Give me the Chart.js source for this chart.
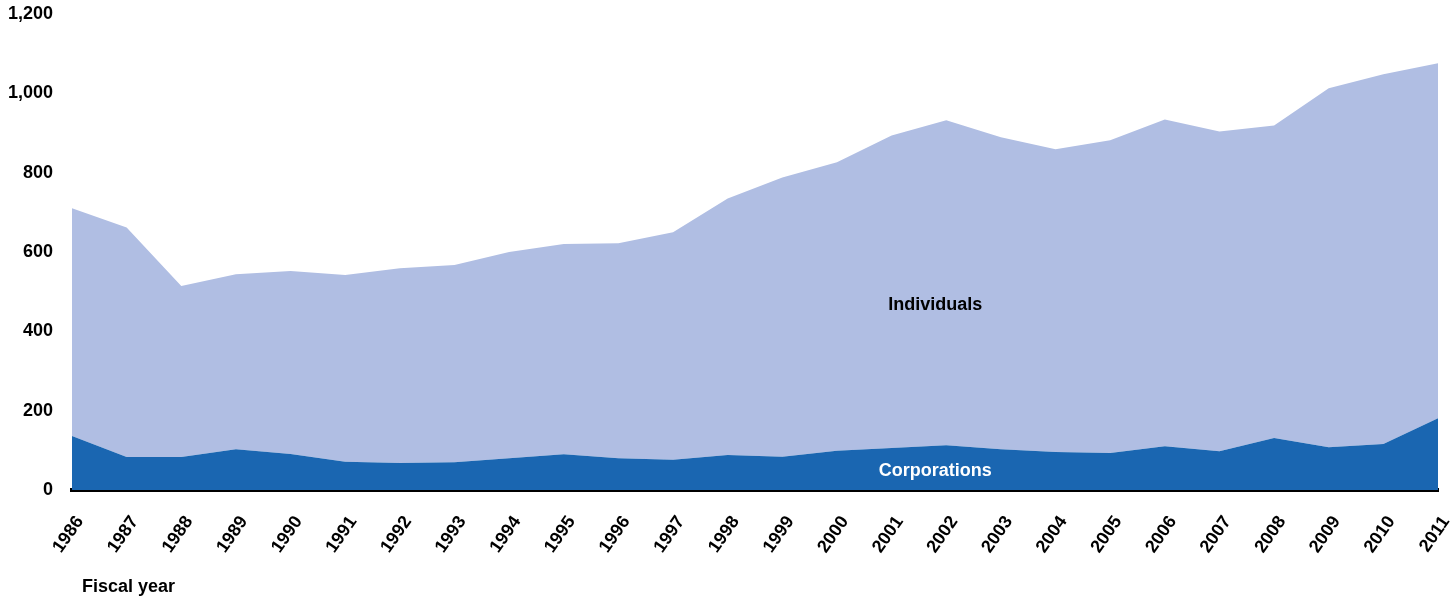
<!DOCTYPE html>
<html>
<head>
<meta charset="utf-8">
<script src="https://cdn.jsdelivr.net/npm/chart.js@4.4.1/dist/chart.umd.min.js"></script>
<style>
  html, body { margin: 0; padding: 0; background: #fff; }
  #wrap { width: 1455px; height: 600px; }
</style>
</head>
<body>
<div id="wrap"><canvas id="myChart"></canvas></div>
<script>
Chart.defaults.font.family = "'Liberation Sans', Arial, sans-serif";

const years = ["1986", "1987", "1988", "1989", "1990", "1991", "1992", "1993", "1994", "1995", "1996", "1997", "1998", "1999", "2000", "2001", "2002", "2003", "2004", "2005", "2006", "2007", "2008", "2009", "2010", "2011"];
const corporations = [136, 83, 83, 103, 91, 71, 68, 70, 80, 90, 80, 76, 88, 84, 99, 106, 113, 103, 96, 93, 110, 98, 131, 108, 116, 181];
const totals = [710, 662, 514, 544, 552, 542, 559, 567, 600, 620, 622, 650, 735, 788, 826, 894, 932, 889, 859, 882, 934, 904, 919, 1013, 1048, 1076];
const individuals = totals.map((t, i) => t - corporations[i]);

const yTicks = [0, 200, 400, 600, 800, 1000, 1200];

// area labels, placed in data units
const areaLabels = [
  { text: "Individuals", x: 15.8, y: 466, color: "#000000" },
  { text: "Corporations", x: 15.8, y: 48, color: "#ffffff" },
];

const labelPlugin = {
  id: "labelPlugin",
  afterDatasetsDraw(chart) {
    const c = chart.ctx;
    const xs = chart.scales.x, ys = chart.scales.y;
    c.save();
    c.font = "bold 18px 'Liberation Sans', Arial, sans-serif";
    c.textAlign = "center";
    c.textBaseline = "middle";
    areaLabels.forEach((l) => {
      c.fillStyle = l.color;
      c.fillText(l.text, xs.getPixelForValue(l.x), ys.getPixelForValue(l.y));
    });
    // axis title
    c.fillStyle = "#000000";
    c.textAlign = "left";
    c.fillText("Fiscal year", chart.chartArea.left + 10, chart.chartArea.bottom + 97);
    c.restore();
  },
};

const ctx = document.getElementById("myChart").getContext("2d");
const myChart = new Chart(ctx, {
  type: "line",
  data: {
    labels: years,
    datasets: [
      {
        label: "Corporations",
        data: corporations,
        backgroundColor: "rgb(26, 102, 177)",
        borderWidth: 0,
        pointRadius: 0,
        fill: "origin",
        tension: 0,
      },
      {
        label: "Individuals",
        data: individuals,
        backgroundColor: "rgb(176, 190, 227)",
        borderWidth: 0,
        pointRadius: 0,
        fill: "-1",
        tension: 0,
      },
    ],
  },
  options: {
    responsive: true,
    maintainAspectRatio: false,
    animation: false,
    layout: { padding: { top: 14, right: 17, left: 0, bottom: 0 } },
    scales: {
      x: {
        z: 1,
        offset: false,
        grid: { display: false, drawTicks: false },
        border: { display: true, color: "#000000", width: 4 },
        ticks: {
          color: "#000000",
          font: { size: 18, weight: "bold" },
          minRotation: 55,
          maxRotation: 55,
          autoSkip: false,
          padding: 22,
          labelOffset: 8,
        },
        afterFit(scale) {
          scale.height = 110;
          scale.paddingLeft = 0;
          scale.paddingRight = 0;
        },
      },
      y: {
        stacked: true,
        min: 0,
        max: 1200,
        grid: { display: false, drawTicks: false },
        border: { display: false },
        afterBuildTicks(scale) { scale.ticks = yTicks.map((v) => ({ value: v })); },
        ticks: {
          color: "#000000",
          font: { size: 18, weight: "bold" },
          padding: 19,
          callback: (v) => v.toLocaleString("en-US"),
        },
        afterFit(scale) {
          scale.width = 72;
          scale.paddingTop = 0;
          scale.paddingBottom = 0;
        },
      },
    },
    plugins: {
      legend: { display: false },
      tooltip: { enabled: false },
    },
  },
  plugins: [labelPlugin],
});
</script>
</body>
</html>
